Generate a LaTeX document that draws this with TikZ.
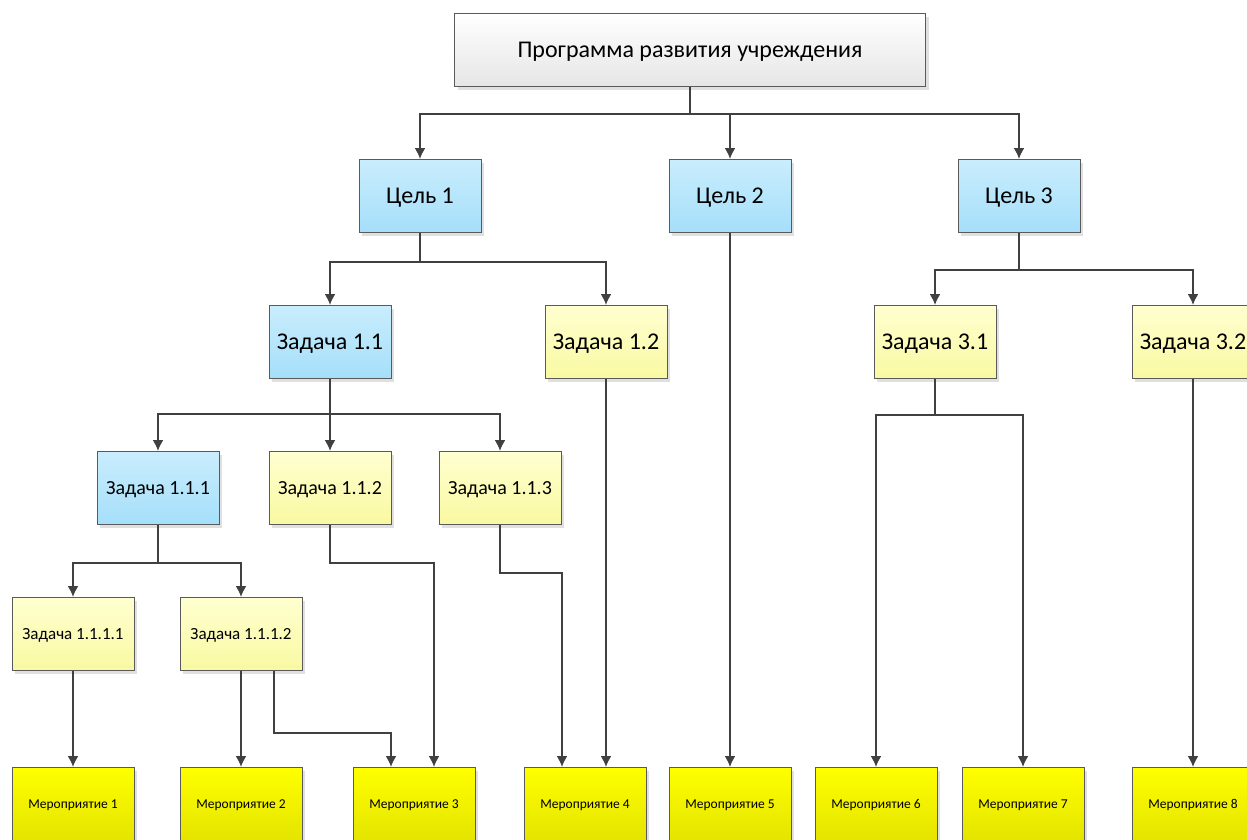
\documentclass[tikz,border=0pt]{standalone}
\usepackage{fontspec}
\setmainfont{Carlito}
\usetikzlibrary{arrows.meta,shadows}

\definecolor{linegray}{HTML}{404040}
\definecolor{boxgray}{HTML}{5A5A5A}
\definecolor{bluetop}{HTML}{C9EDFD}
\definecolor{bluebot}{HTML}{A5DFFA}
\definecolor{paletop}{HTML}{FFFFD0}
\definecolor{palebot}{HTML}{F9F9A2}
\definecolor{eventtop}{HTML}{FFFF00}
\definecolor{eventbot}{HTML}{E4E400}

\begin{document}
\begin{tikzpicture}[x=1pt,y=-1pt]
	\tikzstyle{box}=[rectangle, draw=boxgray, line width=1pt, minimum width=122pt, minimum height=73pt, inner sep=0pt, text depth=0pt, drop shadow={shadow xshift=3pt, shadow yshift=-3pt, fill=black!12, opacity=1}]
	\tikzstyle{prog}=[box, minimum width=471pt, top color=white, bottom color=black!10, font=\fontsize{24}{28}\selectfont]
	\tikzstyle{goal}=[box, top color=bluetop, bottom color=bluebot, font=\fontsize{24}{28}\selectfont]
	\tikzstyle{task}=[box, top color=paletop, bottom color=palebot, font=\fontsize{24}{28}\selectfont]
	\tikzstyle{subtask}=[font=\fontsize{20}{24}\selectfont]
	\tikzstyle{subsubtask}=[font=\fontsize{17}{20}\selectfont]
	\tikzstyle{event}=[box, top color=eventtop, bottom color=eventbot, font=\fontsize{13.5}{16}\selectfont]
	\tikzstyle{connect}=[-{Latex[length=11pt,width=11pt]}, line width=1.8pt, draw=linegray]
	\useasboundingbox (0,0) rectangle (1247,839);
	\clip (0,0) rectangle (1247,839);
	  \node[prog] (prog) at (690,50) {Программа развития учреждения};
	  \node[goal] (goal_1) at (420,196) {Цель 1};
	  \node[goal] (goal_2) at (730,196) {Цель 2};
	  \node[goal] (goal_3) at (1019,196) {Цель 3};
	  \node[goal] (task_11) at (330,342) {Задача 1.1};
	  \node[task] (task_12) at (606,342) {Задача 1.2};
	  \node[task] (task_31) at (935,342) {Задача 3.1};
	  \node[task] (task_32) at (1193,342) {Задача 3.2};
	  \node[goal,subtask] (task_111) at (158,488) {Задача 1.1.1};
	  \node[task,subtask] (task_112) at (330,488) {Задача 1.1.2};
	  \node[task,subtask] (task_113) at (500,488) {Задача 1.1.3};
	  \node[task,subsubtask] (task_1111) at (73,634) {Задача 1.1.1.1};
	  \node[task,subsubtask] (task_1112) at (241,634) {Задача 1.1.1.2};
	  \node[event] (ev_1) at (73,804) {Мероприятие 1};
	  \node[event] (ev_2) at (241,804) {Мероприятие 2};
	  \node[event] (ev_3) at (414,804) {Мероприятие 3};
	  \node[event] (ev_4) at (585,804) {Мероприятие 4};
	  \node[event] (ev_5) at (730,804) {Мероприятие 5};
	  \node[event] (ev_6) at (876,804) {Мероприятие 6};
	  \node[event] (ev_7) at (1023,804) {Мероприятие 7};
	  \node[event] (ev_8) at (1193,804) {Мероприятие 8};
	  % program -> goals
	  \draw[connect] (prog.south) -- ++(0,27) -| (goal_1.north);
	  \draw[connect] (prog.south) -- ++(0,27) -| (goal_2.north);
	  \draw[connect] (prog.south) -- ++(0,27) -| (goal_3.north);
	  % goal 1
	  \draw[connect] (goal_1.south) -- ++(0,29) -| (task_11.north);
	  \draw[connect] (goal_1.south) -- ++(0,29) -| (task_12.north);
	  \draw[connect] (goal_2.south) -- (ev_5.north);
	  % goal 3
	  \draw[connect] (goal_3.south) -- ++(0,37) -| (task_31.north);
	  \draw[connect] (goal_3.south) -- ++(0,37) -| (task_32.north);
	  % task 1.1
	  \draw[connect] (task_11.south) -- ++(0,35) -| (task_111.north);
	  \draw[connect] (task_11.south) -- ++(0,35) -| (task_112.north);
	  \draw[connect] (task_11.south) -- ++(0,35) -| (task_113.north);
	  \draw[connect] (task_12.south) -- (task_12.south |- ev_4.north);
	  % task 3.x
	  \draw[connect] (task_31.south) -- ++(0,36) -| (ev_6.north);
	  \draw[connect] (task_31.south) -- ++(0,36) -| (ev_7.north);
	  \draw[connect] (task_32.south) -- (ev_8.north);
	  % task 1.1.x
	  \draw[connect] (task_111.south) -- ++(0,38) -| (task_1111.north);
	  \draw[connect] (task_111.south) -- ++(0,38) -| (task_1112.north);
	  \draw[connect] (task_112.south) -- ++(0,38) -| ([xshift=20pt]ev_3.north);
	  \draw[connect] (task_113.south) -- ++(0,48) -| ([xshift=-23pt]ev_4.north);
	  % task 1.1.1.x
	  \draw[connect] (task_1111.south) -- (ev_1.north);
	  \draw[connect] (task_1112.south) -- (ev_2.north);
	  \draw[connect] ([xshift=33pt]task_1112.south) -- ++(0,62) -| ([xshift=-23pt]ev_3.north);
	\end{tikzpicture}
\end{document}
